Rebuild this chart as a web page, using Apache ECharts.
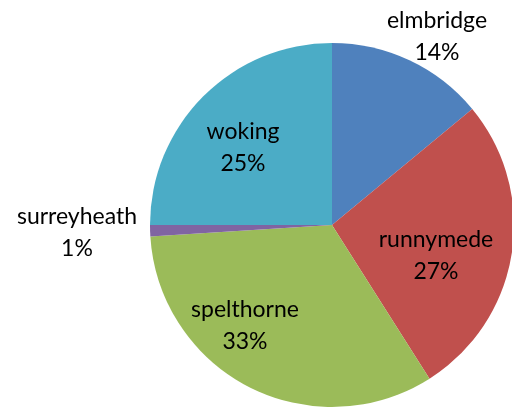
<!DOCTYPE html>
<html>
<head>
<meta charset="utf-8">
<script src="https://cdn.jsdelivr.net/npm/echarts@6/dist/echarts.min.js"></script>
<style>
  html, body { margin: 0; padding: 0; background: #fff; }
  #chart { width: 512px; height: 408px; }
</style>
</head>
<body>
<div id="chart"></div>
<script>
// Share of total by borough
const boroughs = ['elmbridge', 'runnymede', 'spelthorne', 'surreyheath', 'woking'];
const shares = [14, 27, 33, 1, 25];
const colors = ['#4F81BD', '#C0504D', '#9BBB59', '#8064A2', '#4BACC6'];
// Label anchor points (centre of the two-line label block)
const labelAnchors = {
  elmbridge: [437, 37],
  runnymede: [436, 256],
  spelthorne: [245, 326],
  surreyheath: [77, 233],
  woking: [243, 148]
};

const chart = echarts.init(document.getElementById('chart'), null, { renderer: 'canvas' });
chart.setOption({
  animation: false,
  backgroundColor: '#ffffff',
  series: [{
    type: 'pie',
    center: [332, 225],
    radius: [0, 182],
    startAngle: 90,
    clockwise: true,
    avoidLabelOverlap: false,
    data: boroughs.map((name, i) => ({
      name: name,
      value: shares[i],
      itemStyle: { color: colors[i] }
    })),
    itemStyle: { borderWidth: 0 },
    label: {
      show: true,
      position: 'inside',
      formatter: '{b}\n{d}%',
      color: '#000',
      fontFamily: 'Lato',
      fontSize: 23,
      lineHeight: 32,
      align: 'center'
    },
    labelLine: { show: false },
    labelLayout: function (params) {
      const name = boroughs[params.dataIndex];
      const p = labelAnchors[name];
      return { x: p[0], y: p[1], align: 'center', verticalAlign: 'middle' };
    },
    emphasis: { disabled: true }
  }]
});
</script>
</body>
</html>
